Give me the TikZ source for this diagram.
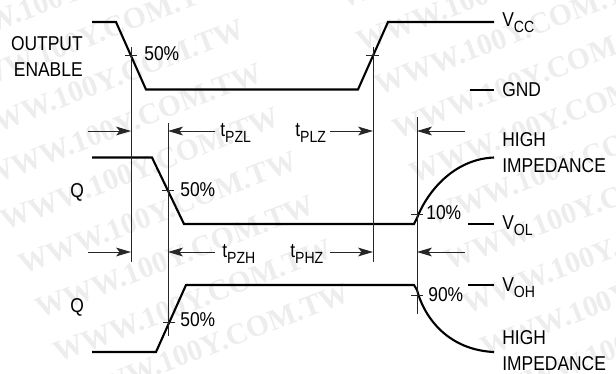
\documentclass[tikz,border=0pt]{standalone}
\usepackage{fontspec}
\setmainfont{Liberation Sans}[FakeStretch=0.87]
\newfontfamily\markfont{Liberation Serif}
\usetikzlibrary{arrows.meta}
\newcommand{\lowtxt}[1]{\raisebox{-0.3em}{\fontsize{9.2}{10}\selectfont #1}}
\tikzset{
  wave/.style={line width=1.2pt},
  guide/.style={line width=0.55pt,black!85},
  dim/.style={line width=0.55pt,black!85,-{Stealth[length=8.5pt,width=5pt,inset=2pt]}},
  lbl/.style={font=\fontsize{11.4}{13}\selectfont,inner sep=0pt,anchor=base west},
  lblr/.style={font=\fontsize{11.4}{13}\selectfont,inner sep=0pt,anchor=base east},
  watermark/.style={font=\markfont\bfseries\fontsize{17}{18}\selectfont,text=black!7,rotate=21,inner sep=0pt,anchor=west}
}
\begin{document}
\begin{tikzpicture}[x=0.02cm,y=-0.02cm]
  \useasboundingbox (0,0) rectangle (616,373);

  \foreach \k in {-2,...,6}
    \node[watermark] (markl\k) at (\k*17.5-33,\k*44+134) {WWW.100Y.COM.TW};
  \foreach \k in {-1,...,8}
    \node[watermark] (markr\k) at (\k*17.6+358,\k*43.7+43) {WWW.100Y.COM.TW};

  \draw[wave] (92,22) -- (116,22) -- (146,89.5) -- (358,89.5) -- (388,22) -- (494,22);
  \draw[wave] (470,90) -- (494,90);
  \draw[wave] (92,157.5) -- (152,157.5) -- (184,224) -- (414,224) -- (417,218)
    .. controls (428,190) and (455,159) .. (494,157.5);
  \draw[wave] (468,224) -- (494,224);
  \draw[wave] (92,352) -- (156,352) -- (186,285) -- (414,285) -- (417,290)
    .. controls (425,320) and (450,350) .. (494,352);
  \draw[wave] (468,285) -- (494,285);

  \draw[guide] (131,47) -- (131,262);
  \draw[guide] (373,47) -- (373,262);
  \draw[guide] (168,123) -- (168,336);
  \draw[guide] (417,117) -- (417,314);

  \draw[guide] (125,55) -- (137,55);
  \draw[guide] (366,55) -- (379,55);
  \draw[guide] (162,190.5) -- (174,190.5);
  \draw[guide] (163,322) -- (175,322);
  \draw[guide] (411,214) -- (423,214);
  \draw[guide] (411,295) -- (423,295);

  \foreach \y in {131,252} {
    \draw[dim] (88,\y) -- (131,\y);
    \draw[dim] (215,\y) -- (168,\y);
    \draw[dim] (330,\y) -- (373,\y);
    \draw[dim] (465,\y) -- (417,\y);
  }

  \node[lblr] (oe1) at (83,50.5) {OUTPUT};
  \node[lblr] (oe2) at (83,76.5) {ENABLE};
  \node[lbl] (q1) at (70,197) {Q};
  \node[lbl] (q2) at (70,312) {Q};
  \node[lbl] (p1) at (144,60.5) {50\%};
  \node[lbl] (p2) at (180,196.5) {50\%};
  \node[lbl] (p3) at (180,326) {50\%};
  \node[lbl] (p4) at (426,219) {10\%};
  \node[lbl] (p5) at (428,301) {90\%};
  \node[lbl] (tzl) at (220,136) {t\lowtxt{PZL}};
  \node[lbl] (tlz) at (295,136) {t\lowtxt{PLZ}};
  \node[lbl] (tzh) at (222,257) {t\lowtxt{PZH}};
  \node[lbl] (thz) at (290,257) {t\lowtxt{PHZ}};
  \node[lbl] (vcc) at (502,26) {V\lowtxt{CC}};
  \node[lbl] (gnd) at (502,96) {GND};
  \node[lbl] (hi1) at (502,146) {HIGH};
  \node[lbl] (im1) at (502,172) {IMPEDANCE};
  \node[lbl] (vol) at (502,229) {V\lowtxt{OL}};
  \node[lbl] (voh) at (502,291) {V\lowtxt{OH}};
  \node[lbl] (hi2) at (502,344) {HIGH};
  \node[lbl] (im2) at (502,370) {IMPEDANCE};
\end{tikzpicture}
\end{document}
